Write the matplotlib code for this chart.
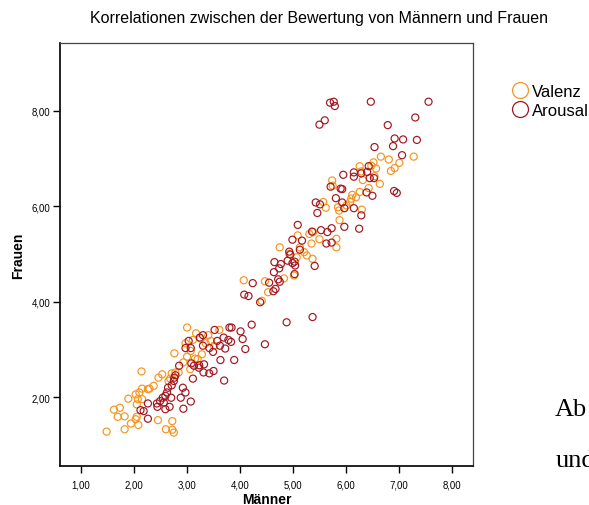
import matplotlib
matplotlib.use("Agg")
import matplotlib.pyplot as plt
from matplotlib.lines import Line2D

plt.rcParams['font.family'] = ['Liberation Sans', 'DejaVu Sans']

title = "Korrelationen zwischen der Bewertung von Männern und Frauen"
xlabel = "Männer"
ylabel = "Frauen"
series_names = ["Valenz", "Arousal"]
tick_values = [1, 2, 3, 4, 5, 6, 7, 8]
ytick_values = [2, 4, 6, 8]

valenz_x = [7.28, 6.66, 6.81, 7.01, 6.92, 6.85, 6.57, 6.52, 6.48, 6.26, 6.29, 6.32, 6.54,
            6.64, 6.43, 6.26, 6.12, 6.10, 6.19, 6.08, 6.01, 5.85, 5.87, 6.30, 5.74, 5.75,
            5.88, 5.82, 5.82, 5.62, 5.57, 5.31, 5.38, 5.50, 5.35, 5.09, 5.13, 5.26, 5.21,
            5.37, 5.07, 5.02, 4.75, 4.93, 4.83, 4.53, 4.47, 4.07, 4.41,
            3.00, 3.17, 3.11, 2.97, 3.25, 3.40, 3.45, 3.61, 3.51, 3.28, 3.20, 3.00, 2.76,
            2.93, 3.06, 3.15, 2.71, 2.78, 2.68, 2.65, 2.53, 2.46, 2.14, 2.37, 2.26, 2.15,
            2.10, 2.03, 2.07, 2.05, 2.15, 1.89, 1.62, 1.73, 1.69, 1.82, 1.48, 1.82, 1.94,
            2.03, 2.08, 2.05, 2.45, 2.72, 2.60, 2.72, 2.75, 2.29, 2.84, 3.07, 3.35]
valenz_y = [7.04, 7.04, 6.98, 6.91, 6.80, 6.74, 6.79, 6.92, 6.85, 6.84, 6.73, 6.55, 6.63,
            6.47, 6.38, 6.30, 6.24, 6.16, 6.19, 6.09, 6.02, 5.98, 5.91, 5.93, 6.54, 6.43,
            5.71, 5.32, 5.14, 5.97, 6.09, 5.42, 5.46, 5.31, 5.22, 5.39, 5.14, 4.97, 5.04,
            4.90, 4.93, 4.55, 5.14, 5.00, 4.49, 4.20, 4.43, 4.45, 4.02,
            3.46, 3.34, 3.20, 3.13, 3.23, 3.30, 3.18, 3.41, 3.08, 2.90, 2.80, 2.85, 2.92,
            2.73, 2.59, 2.81, 2.50, 2.52, 2.39, 2.34, 2.48, 2.41, 2.54, 2.24, 2.17, 2.18,
            2.10, 2.06, 1.96, 1.85, 1.96, 1.97, 1.74, 1.78, 1.59, 1.60, 1.28, 1.33, 1.45,
            1.54, 1.42, 1.59, 1.52, 1.50, 1.33, 1.32, 1.26, 2.18, 2.52, 2.97, 3.13]

arousal_x = [5.70, 5.77, 5.79, 6.47, 7.56, 5.50, 5.60, 6.79, 7.31, 6.92, 7.08, 7.34, 6.89,
             6.54, 7.06, 6.91, 6.96, 5.95, 6.15, 6.15, 6.43, 6.40, 6.45, 6.53, 6.29, 5.71,
             5.90, 5.93, 6.39, 6.50, 5.81, 5.43, 5.51, 5.46, 5.93, 5.97, 6.15, 6.29, 5.97,
             6.25, 5.09, 4.99, 5.17, 4.93, 4.95, 5.13, 5.36, 5.53, 5.65, 5.73, 5.63, 5.73,
             5.41, 4.65, 4.77, 4.74, 4.64, 4.72, 4.75, 4.67, 4.63, 5.03, 4.99, 5.03, 5.04,
             4.90, 4.24, 4.08, 4.16, 4.38, 4.55, 4.22, 4.88, 5.37, 4.47,
             3.84, 3.80, 3.52, 4.01, 4.05, 3.69, 3.78, 3.83, 3.57, 3.62, 3.72, 3.49, 3.42,
             3.30, 3.24, 3.03, 3.07, 2.97, 3.30, 4.10, 3.89, 3.63, 3.08, 3.13, 3.23, 3.32,
             3.22, 2.85, 3.42, 3.31, 3.50, 3.11, 3.70, 2.78, 2.76, 2.75, 2.71, 2.64, 2.62,
             2.59, 2.54, 2.49, 2.70, 2.56, 2.43, 2.26, 2.44, 2.67, 2.59, 2.12, 2.18, 2.26,
             2.88, 2.97, 3.07, 2.93, 2.92]
arousal_y = [8.17, 8.19, 8.10, 8.19, 8.19, 7.71, 7.80, 7.70, 7.86, 7.42, 7.40, 7.39, 7.26,
             7.24, 7.07, 6.32, 6.28, 6.66, 6.71, 6.62, 6.84, 6.72, 6.59, 6.59, 6.69, 6.41,
             6.37, 6.36, 6.29, 6.22, 6.17, 6.08, 6.04, 5.86, 6.08, 5.96, 5.96, 5.81, 5.57,
             5.53, 5.61, 5.30, 5.28, 5.05, 4.99, 5.09, 5.47, 5.50, 5.46, 5.54, 5.22, 5.24,
             4.75, 4.83, 4.79, 4.70, 4.62, 4.47, 4.42, 4.27, 4.22, 4.84, 4.81, 4.58, 4.76,
             4.86, 4.39, 4.15, 4.12, 3.99, 4.40, 3.52, 3.57, 3.68, 3.11,
             3.46, 3.46, 3.41, 3.38, 3.22, 3.25, 3.20, 3.16, 3.18, 3.08, 3.02, 2.95, 3.03,
             3.30, 3.25, 3.18, 3.03, 3.03, 3.08, 3.01, 2.78, 2.78, 2.71, 2.66, 2.67, 2.69,
             2.62, 2.66, 2.50, 2.52, 2.55, 2.39, 2.35, 2.46, 2.41, 2.34, 2.25, 2.20, 2.10,
             2.03, 1.99, 1.92, 1.99, 1.89, 1.87, 1.87, 1.80, 1.80, 1.75, 1.73, 1.71, 1.55,
             1.99, 2.10, 1.91, 1.76, 2.20]

c_val = "#F7941E"
c_aro = "#A3151F"

fig = plt.figure(figsize=(5.89, 5.06), dpi=100)
ax = fig.add_axes([60/589, 1-467/506, 413/589, 423/506])

ax.scatter(valenz_x, valenz_y, s=26, facecolors='none', edgecolors=c_val, linewidths=0.85, zorder=2)
ax.scatter(arousal_x, arousal_y, s=26, facecolors='none', edgecolors=c_aro, linewidths=0.85, zorder=3)

ax.set_xlim(0.6, 8.4)
ax.set_ylim(0.56, 9.42)
ax.set_xticks(tick_values)
ax.set_xticklabels([f"{v:.2f}".replace('.', ',') for v in tick_values])
ax.set_yticks(ytick_values)
ax.set_yticklabels([f"{v:.2f}".replace('.', ',') for v in ytick_values])
ax.tick_params(axis='both', direction='out', length=5, width=1, labelsize=6.9,
               colors='black')
ax.tick_params(axis='x', pad=4.5)
ax.tick_params(axis='y', pad=2)

for side in ['left', 'bottom']:
    ax.spines[side].set_linewidth(1.3)
    ax.spines[side].set_color('#111111')
for side in ['top', 'right']:
    ax.spines[side].set_linewidth(0.9)
    ax.spines[side].set_color('#444444')

ax.set_xlabel(xlabel, fontsize=10, fontweight='bold')
ax.xaxis.set_label_coords(0.5, -(504-467)/423, transform=ax.transAxes)
ax.xaxis.label.set_va('baseline')
ax.set_ylabel(ylabel, fontsize=10, fontweight='bold')
ax.yaxis.set_label_coords(-(60-25)/413, 0.5, transform=ax.transAxes)

fig.text(319/589, 1-23/506, title, ha='center', va='baseline', fontsize=11.5)

handles = [Line2D([], [], marker='o', linestyle='none', markersize=11.5,
                  markerfacecolor='none', markeredgecolor=c, markeredgewidth=0.9)
           for c in (c_val, c_aro)]
fig.legend(handles, series_names, loc='upper left', bbox_to_anchor=(512/589, 1-85/506),
           frameon=False, fontsize=12, handlelength=0.9, handletextpad=0.3,
           borderpad=0, borderaxespad=0, labelspacing=0.22)

fig.text(555/589, 1-416/506, "Ab", fontsize=19, family='Liberation Serif', ha='left', va='baseline')
fig.text(556/589, 1-467/506, "und", fontsize=19, family='Liberation Serif', ha='left', va='baseline')

fig.savefig("out.png", dpi=100)
